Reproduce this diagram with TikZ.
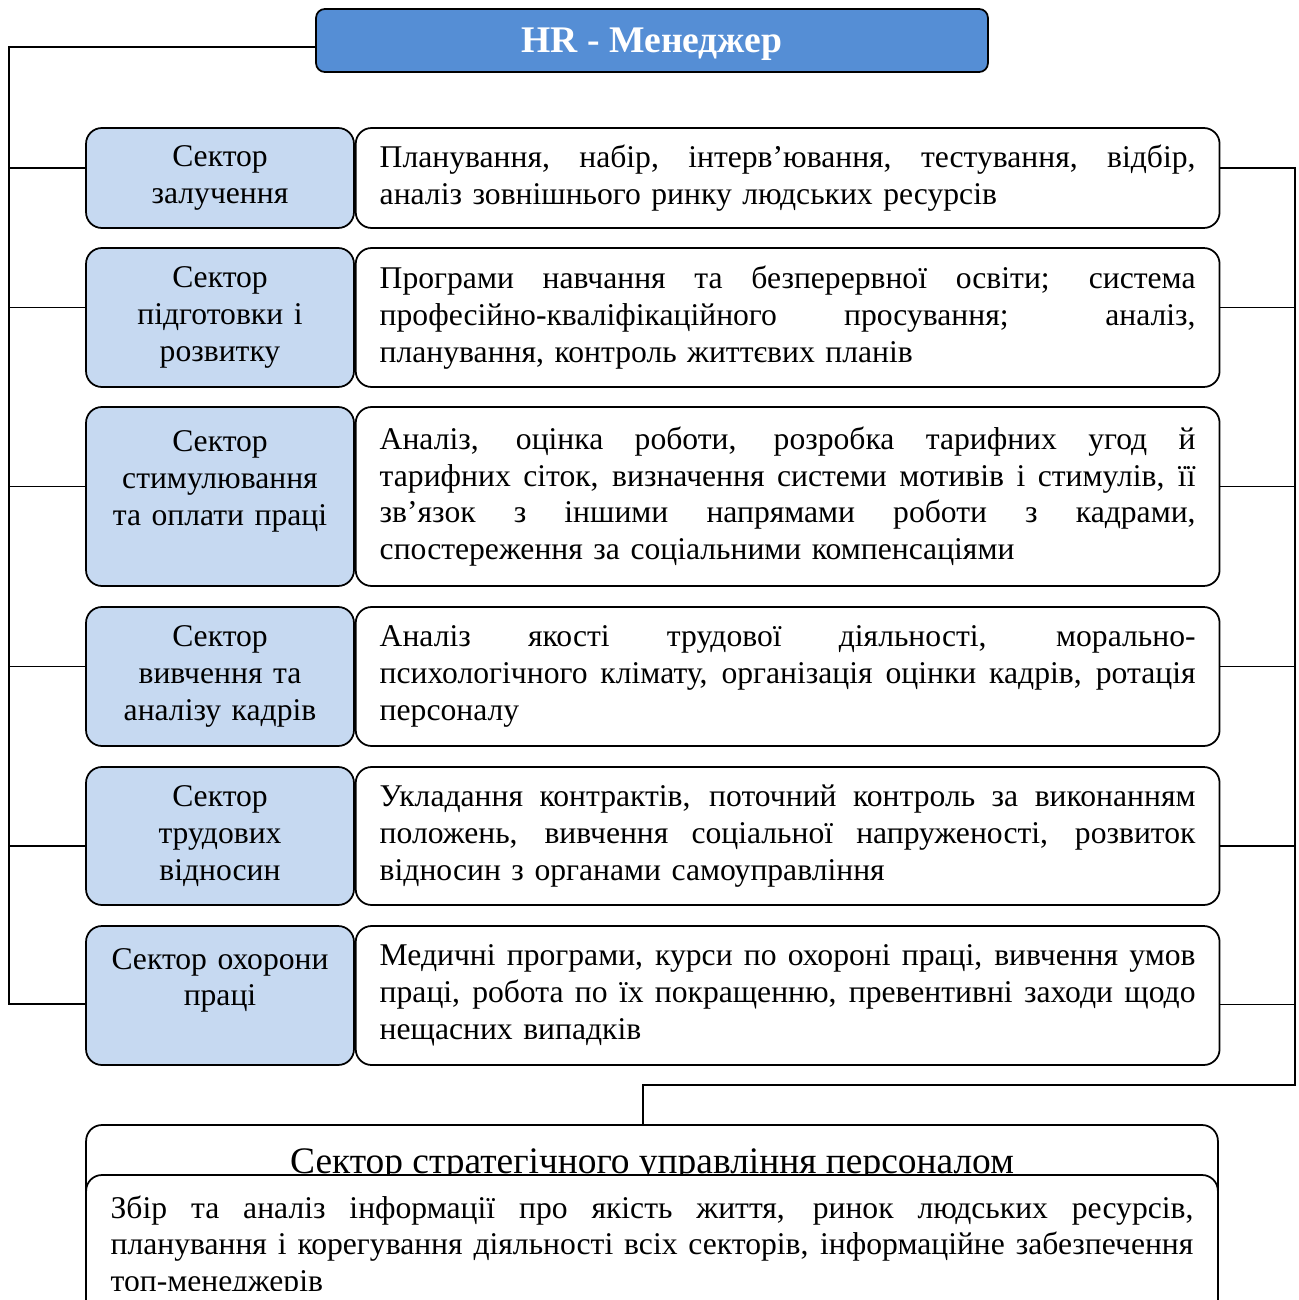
\documentclass[tikz,border=0pt]{standalone}
\usepackage{fontspec}
\setmainfont{Liberation Serif}
\usetikzlibrary{positioning, calc}
\definecolor{hrblue}{RGB}{85, 142, 213}
\definecolor{secblue}{RGB}{198, 217, 241}
% one justified line of a description
\newcommand{\jline}[2][16.32cm]{{\spaceskip=0.25em plus 1fil\relax\hbox to #1{#2}}}
\tikzset{
    headnode/.style={
        rectangle,
        rounded corners=5pt,
        draw=black,
        fill=hrblue,
        line width=1pt,
        minimum width=13.44cm,
        minimum height=1.26cm,
        text=white,
        text depth=0pt,
        font=\fontsize{21.4}{25}\selectfont\bfseries
    },
    secnode/.style={
        rectangle,
        rounded corners=9pt,
        draw=black,
        fill=secblue,
        line width=1pt,
        minimum height=#1,
        text width=4.8cm,
        inner xsep=0.28cm,
        align=center,
        font=\fontsize{18}{21}\selectfont
    },
    descnode/.style={
        rectangle,
        rounded corners=9pt,
        draw=black,
        fill=white,
        line width=1pt,
        minimum height=#1,
        text width=16.32cm,
        inner xsep=0.48cm,
        align=left,
        font=\fontsize{18}{21}\selectfont
    },
    bigbox/.style={
        rectangle,
        rounded corners=9pt,
        draw=black,
        fill=white,
        line width=1pt,
        minimum width=22.64cm,
        minimum height=#1
    },
    link/.style={
        line width=0.8pt
    }
}

\begin{document}
\begin{tikzpicture}[x=0.02cm, y=-0.02cm]
    \useasboundingbox (0,0) rectangle (1298,1300);

    \node[headnode] (hr) at (652,40.5) {HR - Менеджер};

    % sectors and their tasks
    \node[secnode=2cm] (l1) at (220,178) {Сектор\\залучення};
    \node[descnode=2cm, right=0pt of l1] (r1) {%
        \jline{Планування, набір, інтерв’ювання, тестування, відбір,}
        \hbox{аналіз зовнішнього ринку людських ресурсів}};

    \node[secnode=2.78cm] (l2) at (220,317.5) {Сектор\\підготовки і\\розвитку};
    \node[descnode=2.78cm, right=0pt of l2] (r2) {%
        \jline{Програми навчання та безперервної освіти; система}
        \jline{професійно-кваліфікаційного просування; аналіз,}
        \hbox{планування, контроль життєвих планів}};

    \node[secnode=3.58cm] (l3) at (220,496.5) {Сектор\\стимулювання\\та оплати праці\\~};
    \node[descnode=3.58cm, right=0pt of l3] (r3) {%
        \jline{Аналіз, оцінка роботи, розробка тарифних угод й}
        \jline{тарифних сіток, визначення системи мотивів і стимулів, її}
        \jline{зв’язок з іншими напрямами роботи з кадрами,}
        \hbox{спостереження за соціальними компенсаціями}};

    \node[secnode=2.78cm] (l4) at (220,676.5) {Сектор\\вивчення та\\аналізу кадрів};
    \node[descnode=2.78cm, right=0pt of l4] (r4) {%
        \jline{Аналіз якості трудової діяльності, морально-}
        \jline{психологічного клімату, організація оцінки кадрів, ротація}
        \hbox{персоналу}};

    \node[secnode=2.76cm] (l5) at (220,836) {Сектор\\трудових\\відносин};
    \node[descnode=2.76cm, right=0pt of l5] (r5) {%
        \jline{Укладання контрактів, поточний контроль за виконанням}
        \jline{положень, вивчення соціальної напруженості, розвиток}
        \hbox{відносин з органами самоуправління}};

    \node[secnode=2.78cm] (l6) at (220,995.5) {Сектор охорони\\праці\\~};
    \node[descnode=2.78cm, right=0pt of l6] (r6) {%
        \jline{Медичні програми, курси по охороні праці, вивчення умов}
        \jline{праці, робота по їх покращенню, превентивні заходи щодо}
        \hbox{нещасних випадків}};

    % strategic sector
    \node[bigbox=3.84cm] (sb) at (652,1221) {};
    \node[font=\fontsize{21.3}{25}\selectfont, anchor=base] (sbtitle) at (652,1173) {Сектор стратегічного управління персоналом};
    \node[bigbox=2.84cm] (sbbody) at (652,1246) {};
    \begin{scope}
        \clip (0,0) rectangle (1298,1290);
        \node[text width=21.66cm, align=left, font=\fontsize{18}{21}\selectfont] (sbtext) at (652,1247) {%
            \jline[21.66cm]{Збір та аналіз інформації про якість життя, ринок людських ресурсів,}
            \jline[21.66cm]{планування і корегування діяльності всіх секторів, інформаційне забезпечення}
            \hbox{топ-менеджерів}};
    \end{scope}

    % connectors
    \coordinate (lbus) at (9,0);
    \coordinate (turn) at (1295,1085);
    \coordinate (drop) at (643,1085);
    \draw[link] ([yshift=-0.13cm]hr.west) -| (lbus |- 0,1004) -- (l6.west |- 0,1004);
    \foreach \i/\dy in {1/0.2,2/0.2,3/0.2,4/0.2,5/-0.2}
        \draw[link] ([yshift=\dy cm]l\i.west) -- ([yshift=\dy cm]l\i.west -| lbus);
    \draw[link] ([yshift=0.2cm]r1.east) -| (turn) -- (drop) -- (drop |- sb.north);
    \foreach \i/\dy in {2/0.2,3/0.2,4/0.2,5/-0.2,6/-0.18}
        \draw[link] ([yshift=\dy cm]r\i.east) -- ([yshift=\dy cm]r\i.east -| turn);
\end{tikzpicture}
\end{document}
